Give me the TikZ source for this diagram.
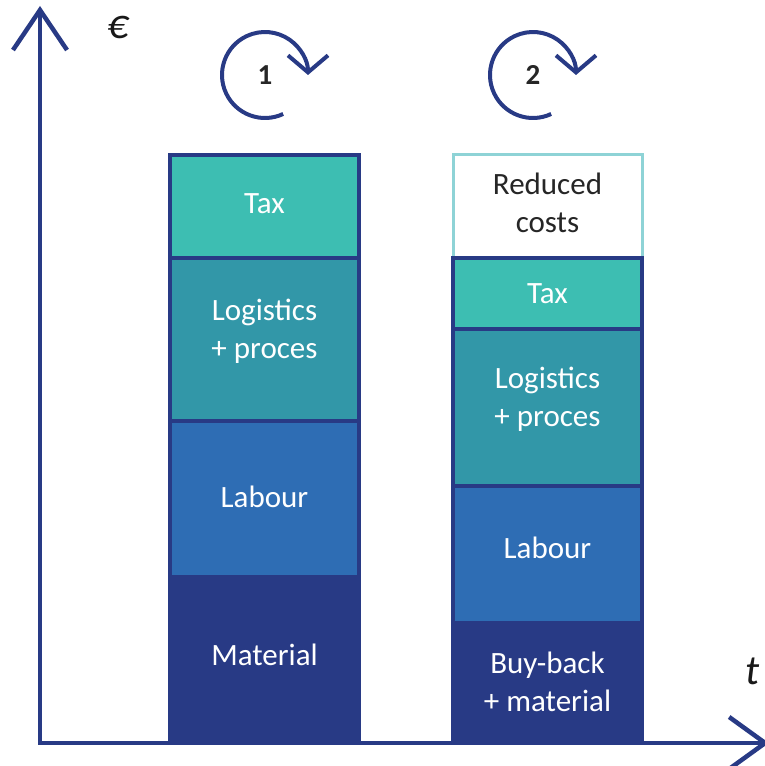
\documentclass[tikz,border=0pt]{standalone}
\usepackage{fontspec}
\setmainfont{Carlito}
\usetikzlibrary{positioning,arrows.meta}
\definecolor{navy}{RGB}{40,58,133}
\definecolor{taxcol}{RGB}{61,190,178}
\definecolor{logcol}{RGB}{50,151,168}
\definecolor{labcol}{RGB}{46,109,180}
\definecolor{redcol}{RGB}{142,211,214}
\tikzset{
  seg/.style={draw=navy,line width=4pt,minimum width=189pt,outer sep=0pt,
    inner sep=0pt,align=center,text=white,font=\fontsize{31}{38}\selectfont},
  axis/.style={navy,line width=4.5pt},
  cyclearrow/.style={navy,line width=4pt,-{Straight Barb[length=17pt,width=40pt]}},
  cyclenum/.style={font=\fontsize{29}{30}\selectfont\bfseries,text=black!85},
  axislabel/.style={font=\fontsize{42}{44}\selectfont\itshape,text=black!90}
}
\begin{document}
\begin{tikzpicture}[x=1pt,y=1pt]
  \useasboundingbox (0,0) rectangle (765,766);
  % axes
  \draw[axis,-{Straight Barb[length=40pt,width=54pt]}] (40,21) -- (40,760);
  \draw[axis,-{Straight Barb[length=36pt,width=52pt]}] (38,23) -- (769,23);
  \node[axislabel] (euro) at (118,738) {€};
  \node[axislabel] (time) at (753,95) {t};
  % bar 1
  \node[seg,fill=taxcol,minimum height=103pt,text depth=6pt] (tax1) at (264.5,559.5) {Tax};
  \node[seg,fill=logcol,minimum height=163pt,text depth=22pt,below=0pt of tax1] (logistics1) {Logistics\\+ proces};
  \node[seg,fill=labcol,minimum height=156pt,text depth=4pt,below=0pt of logistics1] (labour1) {Labour};
  \node[seg,fill=navy,minimum height=164pt,text depth=8pt,below=0pt of labour1] (material1) {Material};
  % bar 2
  \node[seg,draw=redcol,line width=3pt,fill=white,text=black!85,minimum height=103pt,text depth=7pt] (reduced2) at (547.5,559.5) {Reduced\\costs};
  \node[seg,fill=taxcol,minimum height=71pt,below=0pt of reduced2] (tax2) {Tax};
  \node[seg,fill=logcol,minimum height=157pt,text depth=22pt,below=0pt of tax2] (logistics2) {Logistics\\+ proces};
  \node[seg,fill=labcol,minimum height=137pt,text depth=14pt,below=0pt of logistics2] (labour2) {Labour};
  \node[seg,fill=navy,minimum height=118pt,below=0pt of labour2] (buyback2) {Buy-back\\+ material};
  % cycles
  \node[cyclenum] (cycle1) at (265,691) {1};
  \node[cyclenum] (cycle2) at (533,691) {2};
  \draw[cyclearrow] ([shift={(-65:43)}]cycle1.center) arc[start angle=-65,end angle=-360,radius=43];
  \draw[cyclearrow] ([shift={(-65:43)}]cycle2.center) arc[start angle=-65,end angle=-360,radius=43];
\end{tikzpicture}
\end{document}
